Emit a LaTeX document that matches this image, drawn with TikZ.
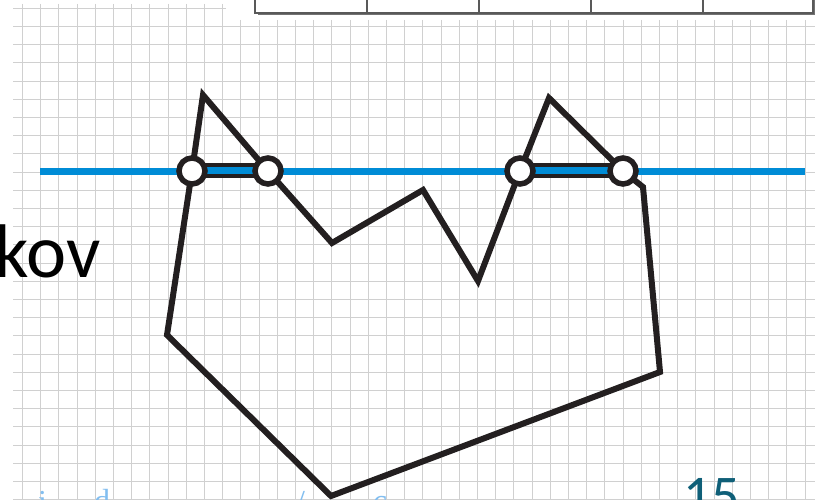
\documentclass[tikz,border=0pt]{standalone}
\usepackage{fontspec}
\setmainfont{Carlito}
\newfontfamily\linkfont{Liberation Serif}
\definecolor{ink}{RGB}{35,31,32}
\definecolor{lineblue}{RGB}{0,140,214}
\definecolor{gridgray}{RGB}{208,208,208}
\definecolor{linkblue}{RGB}{130,190,240}
\definecolor{pagenum}{RGB}{15,95,120}
\tikzset{
  gridline/.style={draw=gridgray,line width=1.1pt},
  outline/.style={draw=ink,line width=6pt,line join=miter,miter limit=10},
  blueline/.style={draw=lineblue,line width=7pt},
  barback/.style={draw=ink,line width=15pt},
  ptnode/.style={circle,draw=ink,fill=white,line width=5.5pt,minimum size=26pt,inner sep=0pt},
  tabline/.style={draw=black!65,line width=1.5pt},
  linktext/.style={anchor=base west,inner sep=0pt,text=linkblue,font=\linkfont\fontsize{32}{32}\selectfont}
}
\begin{document}
\begin{tikzpicture}[x=1pt,y=-1pt]
\useasboundingbox (0,0) rectangle (815,500);
\clip (0,0) rectangle (815,500);
\fill[white] (0,0) rectangle (815,500);
% grid
\foreach \i in {0,...,43}{
  \ifnum\i<12
    \draw[gridline] ({22.5+\i*18.2},4) -- ({22.5+\i*18.2},500);
  \else
    \draw[gridline] ({22.5+\i*18.2},20) -- ({22.5+\i*18.2},500);
  \fi
}
\draw[gridline] (13,8.3) -- (226,8.3);
\foreach \j in {1,...,27}{
  \draw[gridline] (13,{8.3+\j*18.2}) -- (815,{8.3+\j*18.2});
}
% table at top
\fill[black!55] (258,-5) rectangle (815,15.5);
\draw[tabline,fill=white] (255,-5) rectangle (813,13);
\foreach \x in {367,479,591,703}{
  \draw[tabline] (\x,-5) -- (\x,13);
}
% blue line
\coordinate (bl) at (40,172);
\coordinate (br) at (805,172);
\draw[blueline] (bl) -- (br);
% shape points
\coordinate (c1) at (192,171);
\coordinate (a1) at (203,95);
\coordinate (c2) at (268,171);
\coordinate (v1) at (332,243);
\coordinate (p1) at (423,190);
\coordinate (v2) at (478,281);
\coordinate (c3) at (520,171);
\coordinate (a2) at (549,98);
\coordinate (c4) at (623,171);
\coordinate (r1) at (643,187);
\coordinate (r2) at (660,372);
\coordinate (b1) at (331,496);
\coordinate (l1) at (167,335);
\draw[outline] (c1) -- (a1) -- (c2) -- (v1) -- (p1) -- (v2) -- (c3) -- (a2) -- (c4) -- (r1) -- (r2) -- (b1) -- (l1) -- cycle;
\draw[barback] (c1) -- (c2);
\draw[blueline] (c1) -- (c2);
\draw[barback] (c3) -- (c4);
\draw[blueline] (c3) -- (c4);
\node[ptnode] (n1) at (c1) {};
\node[ptnode] (n2) at (c2) {};
\node[ptnode] (n3) at (c3) {};
\node[ptnode] (n4) at (c4) {};
% texts
\node[anchor=base east,inner sep=0pt,font=\fontsize{76}{76}\selectfont] (kov) at (101,278) {kov};
\node[linktext] (t1) at (38,512) {i};
\node[linktext] (t2) at (94,511) {d};
\node[linktext] (t3) at (296,512) {/};
\node[linktext] (t4) at (372,517) {6};
\node[anchor=base west,inner sep=0pt,text=pagenum,font=\fontsize{56}{56}\selectfont] (pg) at (683,514) {15};
\end{tikzpicture}
\end{document}
